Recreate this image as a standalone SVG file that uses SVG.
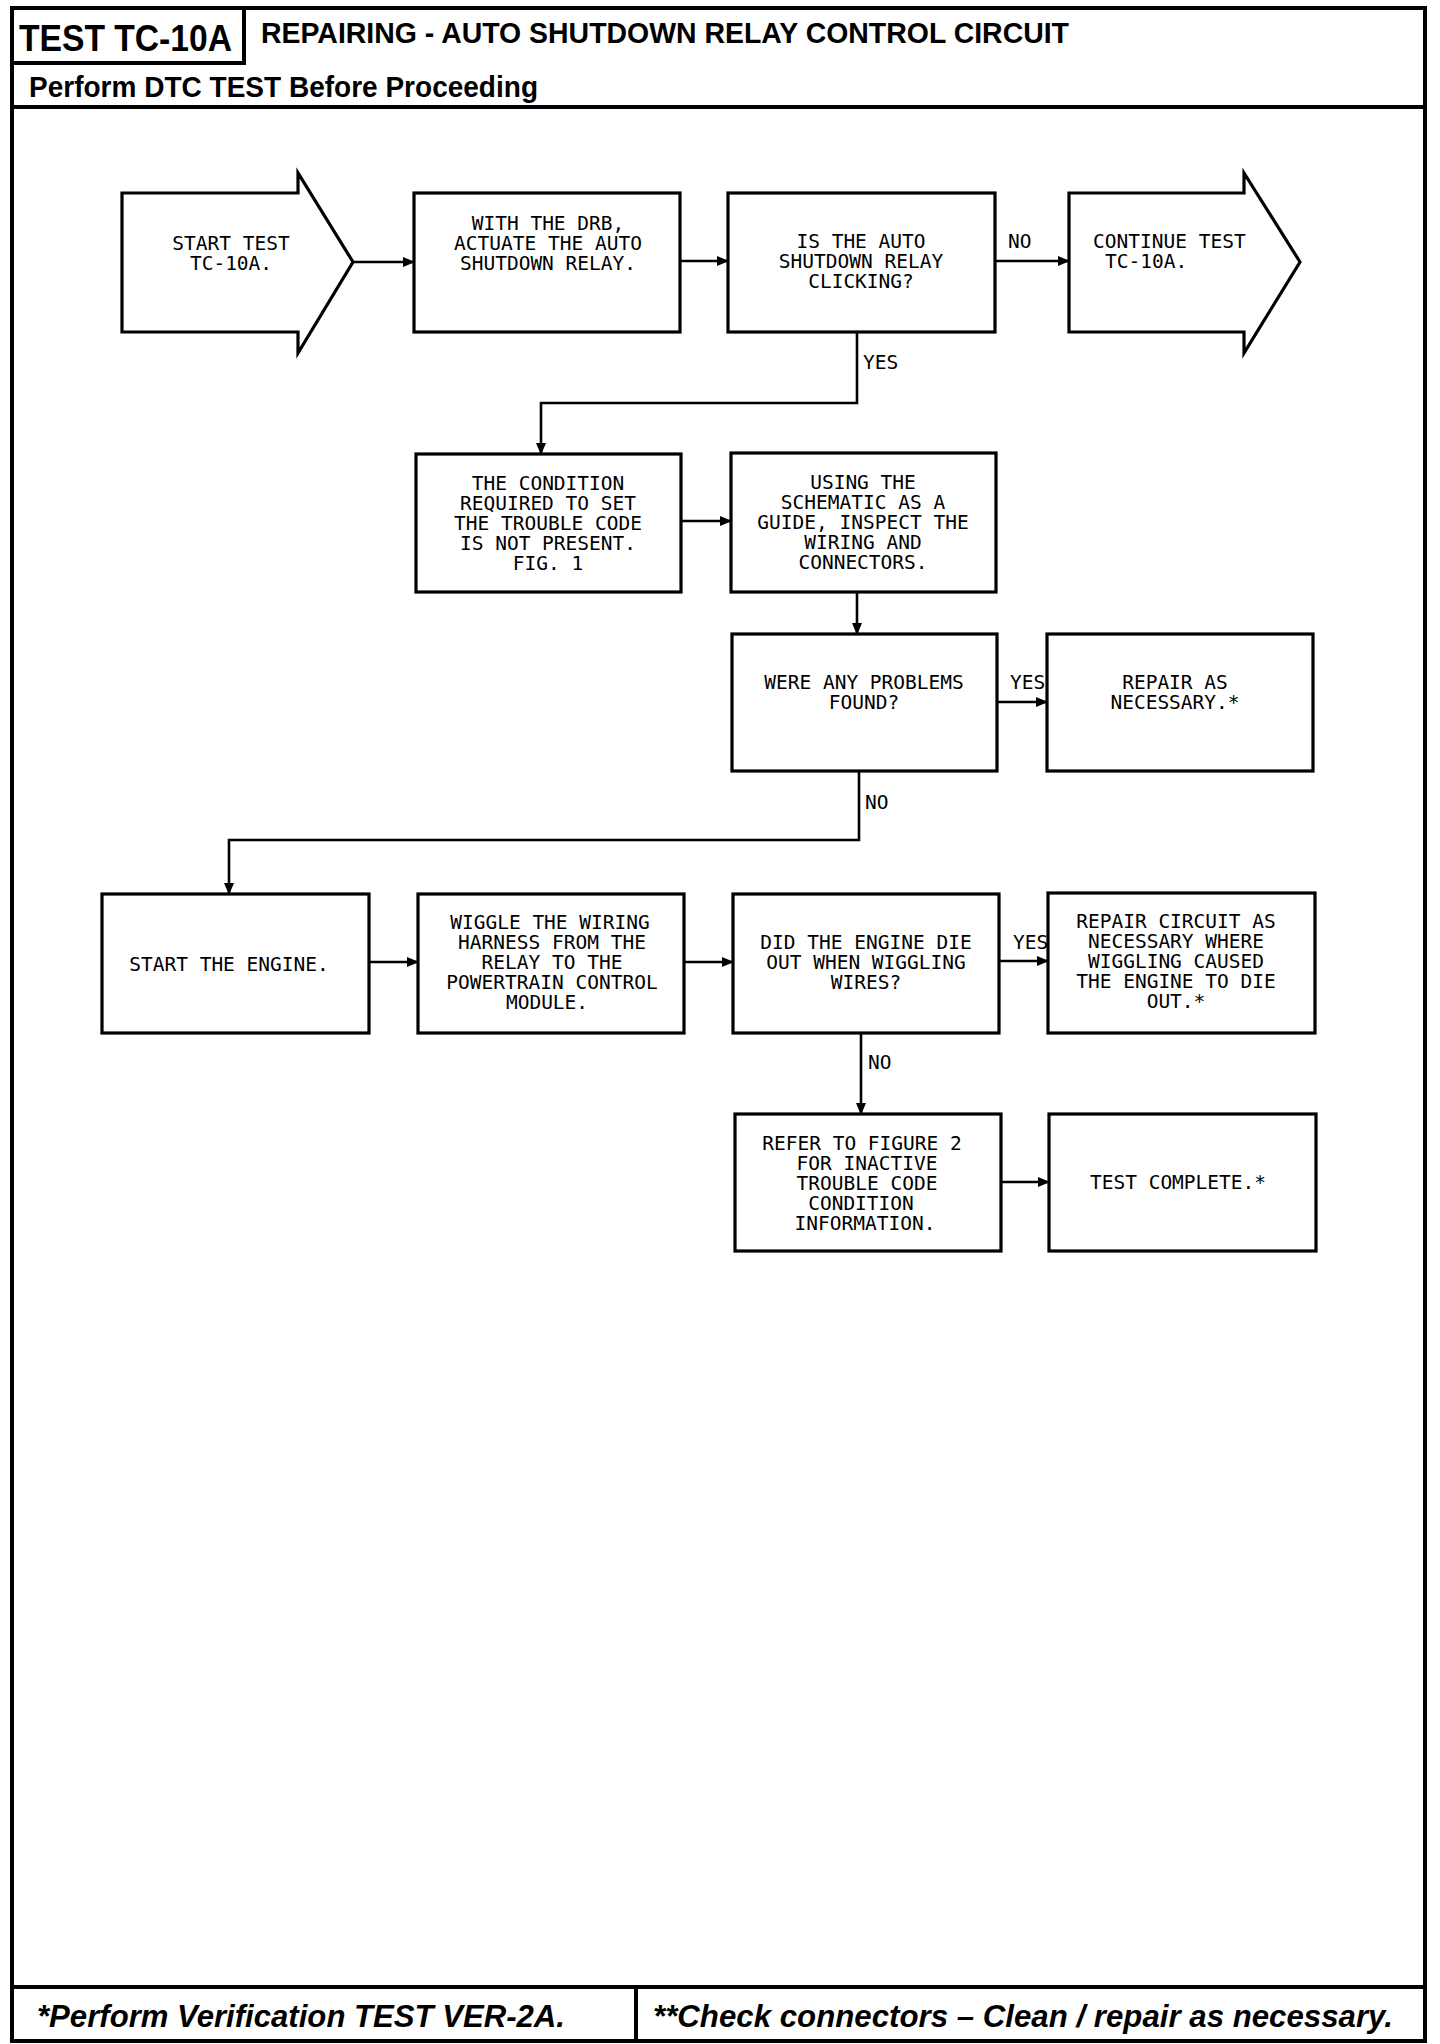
<svg xmlns="http://www.w3.org/2000/svg" width="1440" height="2044" viewBox="0 0 1440 2044">
<style>
.frame{fill:none;stroke:#000;stroke-width:4}
.box{fill:#fff;stroke:#000;stroke-width:3.2}
.con{fill:none;stroke:#000;stroke-width:2.6}
.t{font-family:"DejaVu Sans Mono","Liberation Mono",monospace;font-size:19.5px;fill:#000;text-anchor:middle}
.l{font-family:"DejaVu Sans Mono","Liberation Mono",monospace;font-size:19.5px;fill:#000}
.h{font-family:"Liberation Sans",Arial,sans-serif;font-weight:bold;fill:#000}
.f{font-family:"Liberation Sans",Arial,sans-serif;font-weight:bold;font-style:italic;fill:#000}
</style>
<defs>
<marker id="ah" markerUnits="userSpaceOnUse" markerWidth="12" markerHeight="10" refX="11" refY="5" orient="auto">
<path d="M0,0 L12,5 L0,10 Z" fill="#000"/>
</marker>
</defs>
<rect width="1440" height="2044" fill="#fff"/>
<g id="frame">
<rect class="frame" x="12" y="8" width="1413" height="2033"/>
<path class="frame" d="M244,8 V63 H12"/>
<path class="frame" d="M12,107 H1425"/>
<path class="frame" d="M12,1987 H1425 M636,1987 V2041"/>
<text class="h" x="19" y="51" font-size="36" textLength="213" lengthAdjust="spacingAndGlyphs">TEST TC-10A</text>
<text class="h" x="261" y="43" font-size="29" textLength="808" lengthAdjust="spacingAndGlyphs">REPAIRING - AUTO SHUTDOWN RELAY CONTROL CIRCUIT</text>
<text class="h" x="29" y="97" font-size="29" textLength="509" lengthAdjust="spacingAndGlyphs">Perform DTC TEST Before Proceeding</text>
<text class="f" x="37" y="2027" font-size="31" textLength="528" lengthAdjust="spacingAndGlyphs">*Perform Verification TEST VER-2A.</text>
<text class="f" x="653" y="2027" font-size="31" textLength="740" lengthAdjust="spacingAndGlyphs">**Check connectors – Clean / repair as necessary.</text>
</g>
<g id="connectors">
<path class="con" d="M353,262 H414" marker-end="url(#ah)"/>
<path class="con" d="M680,261 H728" marker-end="url(#ah)"/>
<path class="con" d="M995,261 H1069" marker-end="url(#ah)"/>
<path class="con" d="M857,332 V403 H541 V454" marker-end="url(#ah)"/>
<path class="con" d="M681,521 H731" marker-end="url(#ah)"/>
<path class="con" d="M857,592 V634" marker-end="url(#ah)"/>
<path class="con" d="M997,702 H1047" marker-end="url(#ah)"/>
<path class="con" d="M859,771 V840 H229 V894" marker-end="url(#ah)"/>
<path class="con" d="M369,962 H418" marker-end="url(#ah)"/>
<path class="con" d="M684,962 H733" marker-end="url(#ah)"/>
<path class="con" d="M999,961 H1048" marker-end="url(#ah)"/>
<path class="con" d="M861,1033 V1114" marker-end="url(#ah)"/>
<path class="con" d="M1001,1182 H1049" marker-end="url(#ah)"/>
<text class="l" x="1008" y="248">NO</text>
<text class="l" x="863" y="369">YES</text>
<text class="l" x="1010" y="689">YES</text>
<text class="l" x="865" y="809">NO</text>
<text class="l" x="1013" y="949">YES</text>
<text class="l" x="868" y="1069">NO</text>
</g>
<g id="n1">
<polygon class="box" points="122,193 298,193 298,173 353,262 298,353 298,332 122,332"/>
<text class="t" x="231" y="250">START TEST</text>
<text class="t" x="231" y="270">TC-10A.</text>
</g>
<g id="n2">
<rect class="box" x="414" y="193" width="266" height="139"/>
<text class="t" x="548" y="230">WITH THE DRB,</text>
<text class="t" x="548" y="250">ACTUATE THE AUTO</text>
<text class="t" x="548" y="270">SHUTDOWN RELAY.</text>
</g>
<g id="n3">
<rect class="box" x="728" y="193" width="267" height="139"/>
<text class="t" x="861" y="248">IS THE AUTO</text>
<text class="t" x="861" y="268">SHUTDOWN RELAY</text>
<text class="t" x="861" y="288">CLICKING?</text>
</g>
<g id="n4">
<polygon class="box" points="1069,193 1244,193 1244,173 1300,262 1244,353 1244,332 1069,332"/>
<text class="l" x="1093" y="248">CONTINUE TEST</text>
<text class="l" x="1105" y="268">TC-10A.</text>
</g>
<g id="n5">
<rect class="box" x="416" y="454" width="265" height="138"/>
<text class="t" x="548" y="490">THE CONDITION</text>
<text class="t" x="548" y="510">REQUIRED TO SET</text>
<text class="t" x="548" y="530">THE TROUBLE CODE</text>
<text class="t" x="548" y="550">IS NOT PRESENT.</text>
<text class="t" x="548" y="570">FIG. 1</text>
</g>
<g id="n6">
<rect class="box" x="731" y="453" width="265" height="139"/>
<text class="t" x="863" y="489">USING THE</text>
<text class="t" x="863" y="509">SCHEMATIC AS A</text>
<text class="t" x="863" y="529">GUIDE, INSPECT THE</text>
<text class="t" x="863" y="549">WIRING AND</text>
<text class="t" x="863" y="569">CONNECTORS.</text>
</g>
<g id="n7">
<rect class="box" x="732" y="634" width="265" height="137"/>
<text class="t" x="864" y="689">WERE ANY PROBLEMS</text>
<text class="t" x="864" y="709">FOUND?</text>
</g>
<g id="n8">
<rect class="box" x="1047" y="634" width="266" height="137"/>
<text class="t" x="1175" y="689">REPAIR AS</text>
<text class="t" x="1175" y="709">NECESSARY.*</text>
</g>
<g id="n9">
<rect class="box" x="102" y="894" width="267" height="139"/>
<text class="t" x="229" y="971">START THE ENGINE.</text>
</g>
<g id="n10">
<rect class="box" x="418" y="894" width="266" height="139"/>
<text class="t" x="550" y="929">WIGGLE THE WIRING</text>
<text class="t" x="552" y="949">HARNESS FROM THE</text>
<text class="t" x="552" y="969">RELAY TO THE</text>
<text class="t" x="552" y="989">POWERTRAIN CONTROL</text>
<text class="t" x="547" y="1009">MODULE.</text>
</g>
<g id="n11">
<rect class="box" x="733" y="894" width="266" height="139"/>
<text class="t" x="866" y="949">DID THE ENGINE DIE</text>
<text class="t" x="866" y="969">OUT WHEN WIGGLING</text>
<text class="t" x="866" y="989">WIRES?</text>
</g>
<g id="n12">
<rect class="box" x="1048" y="893" width="267" height="140"/>
<text class="t" x="1176" y="928">REPAIR CIRCUIT AS</text>
<text class="t" x="1176" y="948">NECESSARY WHERE</text>
<text class="t" x="1176" y="968">WIGGLING CAUSED</text>
<text class="t" x="1176" y="988">THE ENGINE TO DIE</text>
<text class="t" x="1176" y="1008">OUT.*</text>
</g>
<g id="n13">
<rect class="box" x="735" y="1114" width="266" height="137"/>
<text class="t" x="862" y="1150">REFER TO FIGURE 2</text>
<text class="t" x="867" y="1170">FOR INACTIVE</text>
<text class="t" x="867" y="1190">TROUBLE CODE</text>
<text class="t" x="861" y="1210">CONDITION</text>
<text class="t" x="865" y="1230">INFORMATION.</text>
</g>
<g id="n14">
<rect class="box" x="1049" y="1114" width="267" height="137"/>
<text class="t" x="1178" y="1189">TEST COMPLETE.*</text>
</g>
</svg>
